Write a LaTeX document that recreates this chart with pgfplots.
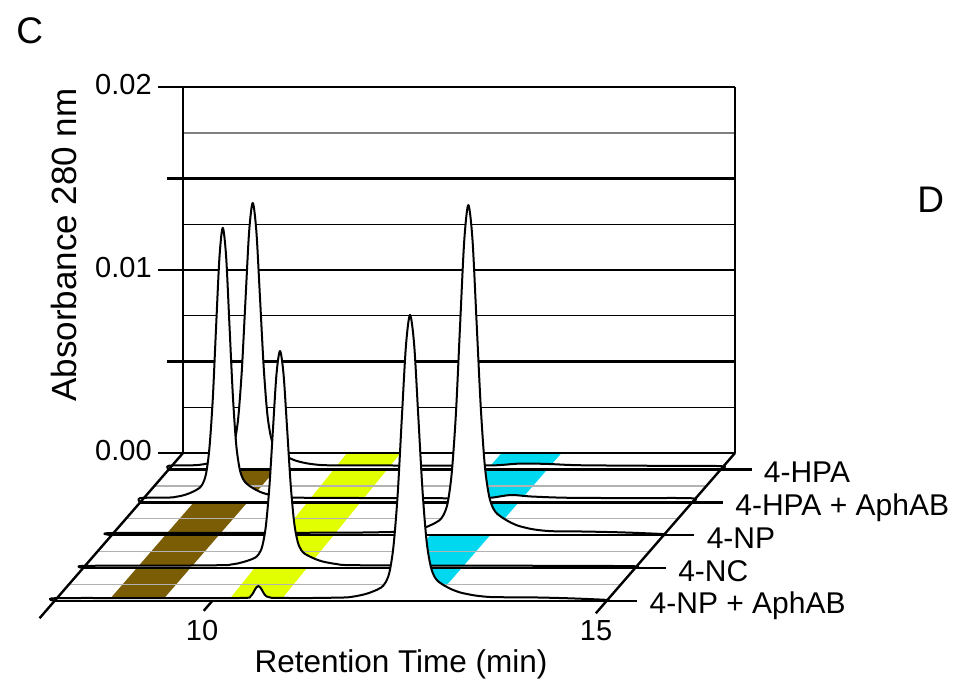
\documentclass[border=0pt]{standalone}
\usepackage{fontspec}
\setmainfont{Liberation Sans}
\usepackage{pgfplots}
\pgfplotsset{compat=1.18}

\definecolor{bandbrown}{RGB}{122,93,5}
\definecolor{bandyellow}{RGB}{225,255,0}
\definecolor{bandcyan}{RGB}{0,216,240}
\definecolor{floorgray}{RGB}{178,178,178}
\definecolor{wallgray}{RGB}{128,128,128}

\tikzset{
  lab/.style={anchor=base west, inner sep=0pt, xshift=6pt, yshift=-6.5pt,
              font=\fontsize{15}{18}\selectfont},
  ticklab/.style={inner sep=0pt, font=\fontsize{14.5}{17}\selectfont},
}

% x = retention time (min), y = trace row (depth), z = absorbance at 280 nm in mAU
\begin{document}
\begin{tikzpicture}
\begin{axis}[
  x={(39.43pt,0pt)}, y={(-7.139pt,-8.222pt)}, z={(0pt,9.15pt)},
  xmin=8, xmax=15, ymin=0, ymax=9, zmin=0, zmax=20,
  hide axis, clip=false,
  every axis plot/.append style={mark=none},
  trace/.style={fill=white, draw=black, line width=1pt, smooth, line join=round},
]
% page frame
\path (axis cs:5.679,0,24.754) rectangle (axis cs:17.802,0,-12.568);

% ---- back wall grid ----
\addplot3[black, line width=0.5pt] coordinates {(8,0,2.5) (15,0,2.5)};
\addplot3[black, line width=0.5pt] coordinates {(8,0,7.5) (15,0,7.5)};
\addplot3[black, line width=0.5pt] coordinates {(8,0,12.5) (15,0,12.5)};
\addplot3[wallgray, line width=0.8pt] coordinates {(8,0,17.5) (15,0,17.5)};
\addplot3[black, line width=1.1pt] coordinates {(8,0,5) (15,0,5)};
\addplot3[black, line width=1.1pt] coordinates {(8,0,10) (15,0,10)};
\addplot3[black, line width=1.1pt] coordinates {(8,0,15) (15,0,15)};
\addplot3[black, line width=1.25pt] coordinates {(8,0,20) (15,0,20)};
\addplot3[black, line width=1.3pt] coordinates {(8,0,0) (8,0,20)};
\addplot3[black, line width=1.3pt] coordinates {(15,0,0) (15,0,20)};
% absorbance ticks
\addplot3[black, line width=1.25pt] coordinates {(7.683,0,0) (8,0,0)};
\addplot3[black, line width=1.25pt] coordinates {(7.797,0,5) (8,0,5)};
\addplot3[black, line width=1.25pt] coordinates {(7.683,0,10) (8,0,10)};
\addplot3[black, line width=1.25pt] coordinates {(7.797,0,15) (8,0,15)};
\addplot3[black, line width=1.25pt] coordinates {(7.683,0,20) (8,0,20)};

% ---- floor: highlighted retention windows ----
\addplot3[fill=bandbrown, draw=none] coordinates {(8.68,0,0) (9.36,0,0) (9.36,9,0) (8.68,9,0)};
\addplot3[fill=bandyellow, draw=none] coordinates {(10.08,0,0) (10.76,0,0) (10.86,9,0) (10.20,9,0)};
\addplot3[fill=bandcyan, draw=none] coordinates {(12.04,0,0) (12.80,0,0) (12.80,9,0) (12.04,9,0)};
% floor grid
\addplot3[floorgray, line width=0.7pt] coordinates {(8,2,0) (15,2,0)};
\addplot3[floorgray, line width=0.7pt] coordinates {(8,4,0) (15,4,0)};
\addplot3[floorgray, line width=0.7pt] coordinates {(8,6,0) (15,6,0)};
\addplot3[floorgray, line width=0.7pt] coordinates {(8,8,0) (15,8,0)};
\addplot3[black, line width=1.25pt] coordinates {(8,0,0) (15,0,0)};

% ---- chromatograms, back to front ----
% 4-HPA
\addplot3[trace] coordinates {
(8,1,0) (8,1,0.20) (8.329,1,0.23) (8.421,1,0.27) (8.513,1,0.34) (8.605,1,0.45)
(8.697,1,0.62) (8.743,1,0.73) (8.789,1,0.96) (8.835,1,1.49) (8.881,1,2.81)
(8.927,1,5.43) (8.973,1,9.25) (9.019,1,12.98) (9.065,1,14.56) (9.111,1,13.01)
(9.157,1,9.39) (9.203,1,5.66) (9.249,1,3.07) (9.295,1,1.78) (9.341,1,1.23)
(9.387,1,0.99) (9.433,1,0.85) (9.525,1,0.63) (9.617,1,0.47) (9.709,1,0.37)
(9.801,1,0.30) (9.985,1,0.23) (10.5,1,0.22) (11.3,1,0.21) (12.1,1,0.22)
(12.45,1,0.32) (12.8,1,0.30) (13.2,1,0.23) (14.1,1,0.20) (15,1,0.18) (15,1,0)};
\addplot3[black, line width=1.2pt] coordinates {(8,1,0) (15.39,1,0)};
\node[lab] at (axis cs:15.39,1,0) {4-HPA};

% 4-HPA + AphAB
\addplot3[trace] coordinates {
(8,3,0) (8,3,0.23) (8.367,3,0.26) (8.452,3,0.30) (8.537,3,0.37) (8.622,3,0.49)
(8.707,3,0.66) (8.750,3,0.78) (8.792,3,1.01) (8.835,3,1.56) (8.877,3,2.92)
(8.920,3,5.61) (8.962,3,9.54) (9.005,3,13.38) (9.047,3,15.00) (9.090,3,13.41)
(9.132,3,9.68) (9.175,3,5.84) (9.217,3,3.18) (9.260,3,1.85) (9.302,3,1.29)
(9.345,3,1.04) (9.387,3,0.89) (9.472,3,0.67) (9.557,3,0.51) (9.642,3,0.41)
(9.727,3,0.33) (9.897,3,0.26) (10.5,3,0.24) (11.3,3,0.23) (12.2,3,0.22)
(12.45,3,0.25) (12.7,3,0.40) (12.95,3,0.32) (13.4,3,0.25) (14.2,3,0.23)
(15,3,0.22) (15,3,0)};
\addplot3[black, line width=1.2pt] coordinates {(8,3,0) (15.39,3,0)};
\node[lab] at (axis cs:15.39,3,0) {4-HPA + AphAB};

% 4-NP
\addplot3[trace] coordinates {
(8,5,0) (8,5,0.12) (9.5,5,0.13) (11,5,0.14) (11.683,5,0.19) (11.788,5,0.23)
(11.893,5,0.32) (11.998,5,0.46) (12.103,5,0.67) (12.156,5,0.81) (12.208,5,1.10)
(12.261,5,1.76) (12.313,5,3.41) (12.366,5,6.66) (12.418,5,11.42) (12.471,5,16.07)
(12.523,5,18.04) (12.576,5,16.14) (12.628,5,11.63) (12.681,5,6.98) (12.733,5,3.76)
(12.786,5,2.15) (12.838,5,1.47) (12.891,5,1.16) (12.943,5,0.99) (13.048,5,0.72)
(13.153,5,0.52) (13.258,5,0.40) (13.363,5,0.31) (13.573,5,0.22) (14.0,5,0.20)
(14.5,5,0.15) (15,5,0.06) (15,5,0)};
\addplot3[black, line width=1.2pt] coordinates {(8,5,0) (15.39,5,0)};
\node[lab] at (axis cs:15.39,5,0) {4-NP};

% 4-NC
\addplot3[trace] coordinates {
(8,7,0) (8,7,0.12) (9,7,0.13) (9.777,7,0.16) (9.867,7,0.19) (9.957,7,0.25)
(10.047,7,0.35) (10.137,7,0.48) (10.182,7,0.57) (10.227,7,0.76) (10.272,7,1.19)
(10.317,7,2.27) (10.362,7,4.41) (10.407,7,7.52) (10.452,7,10.57) (10.497,7,11.86)
(10.542,7,10.59) (10.587,7,7.64) (10.632,7,4.59) (10.677,7,2.48) (10.722,7,1.43)
(10.767,7,0.98) (10.812,7,0.78) (10.857,7,0.67) (10.947,7,0.49) (11.037,7,0.36)
(11.127,7,0.28) (11.217,7,0.22) (11.397,7,0.16) (12.5,7,0.14) (13.5,7,0.13)
(14.3,7,0.12) (15,7,0.10) (15,7,0)};
\addplot3[black, line width=1.2pt] coordinates {(8,7,0) (15.39,7,0)};
\node[lab] at (axis cs:15.39,7,0) {4-NC};

% 4-NP + AphAB
\addplot3[trace] coordinates {
(8,9,0) (8,9,0.15) (9,9,0.16) (10,9,0.16) (10.434,9,0.17) (10.484,9,0.25)
(10.509,9,0.37) (10.534,9,0.56) (10.559,9,0.74) (10.584,9,0.82) (10.609,9,0.74)
(10.634,9,0.57) (10.659,9,0.38) (10.684,9,0.26) (10.734,9,0.19) (10.8,9,0.17)
(11.2,9,0.16) (11.668,9,0.19) (11.773,9,0.23) (11.878,9,0.31) (11.983,9,0.43)
(12.088,9,0.61) (12.141,9,0.73) (12.193,9,0.98) (12.246,9,1.55) (12.298,9,2.98)
(12.351,9,5.79) (12.403,9,9.91) (12.456,9,13.93) (12.508,9,15.63) (12.561,9,13.98)
(12.613,9,10.08) (12.666,9,6.06) (12.718,9,3.27) (12.771,9,1.88) (12.823,9,1.29)
(12.876,9,1.03) (12.928,9,0.88) (13.033,9,0.64) (13.138,9,0.47) (13.243,9,0.37)
(13.348,9,0.29) (13.558,9,0.21) (14.0,9,0.20) (14.5,9,0.15) (15,9,0.06) (15,9,0)};
\addplot3[black, line width=1.2pt] coordinates {(8,9,0) (15.39,9,0)};
\node[lab] at (axis cs:15.39,9,0) {4-NP + AphAB};

% floor side edges and time ticks
\addplot3[black, line width=1.2pt] coordinates {(8,0,0) (8,10.05,0)};
\addplot3[black, line width=1.2pt] coordinates {(15,0,0) (15,9.75,0)};
\addplot3[black, line width=1.2pt] coordinates {(10,9,0) (10,9.6,0)};

% ---- text ----
\node[ticklab, anchor=base east, yshift=-3.75pt] at (axis cs:7.607,0,20) {0.02};
\node[ticklab, anchor=base east, yshift=-3.75pt] at (axis cs:7.607,0,10) {0.01};
\node[ticklab, anchor=base east, yshift=-3.75pt] at (axis cs:7.607,0,0) {0.00};
\node[ticklab, anchor=base] at (axis cs:8.241,0,-10.27) {10};
\node[ticklab, anchor=base] at (axis cs:13.237,0,-10.27) {15};
\node[anchor=base, inner sep=0pt, font=\fontsize{15.75}{18}\selectfont]
  at (axis cs:10.764,0,-12.02) {Retention Time (min)};
\node[anchor=base, rotate=90, inner sep=0pt, font=\fontsize{17.5}{20}\selectfont]
  at (axis cs:6.643,0,11.366) {Absorbance 280 nm};
\node[anchor=base west, inner sep=0pt, font=\fontsize{18.5}{22}\selectfont]
  at (axis cs:5.882,0,22.40) {C};
\node[anchor=base west, inner sep=0pt, font=\fontsize{18.5}{22}\selectfont]
  at (axis cs:17.308,0,13.115) {D};
\end{axis}
\end{tikzpicture}
\end{document}
